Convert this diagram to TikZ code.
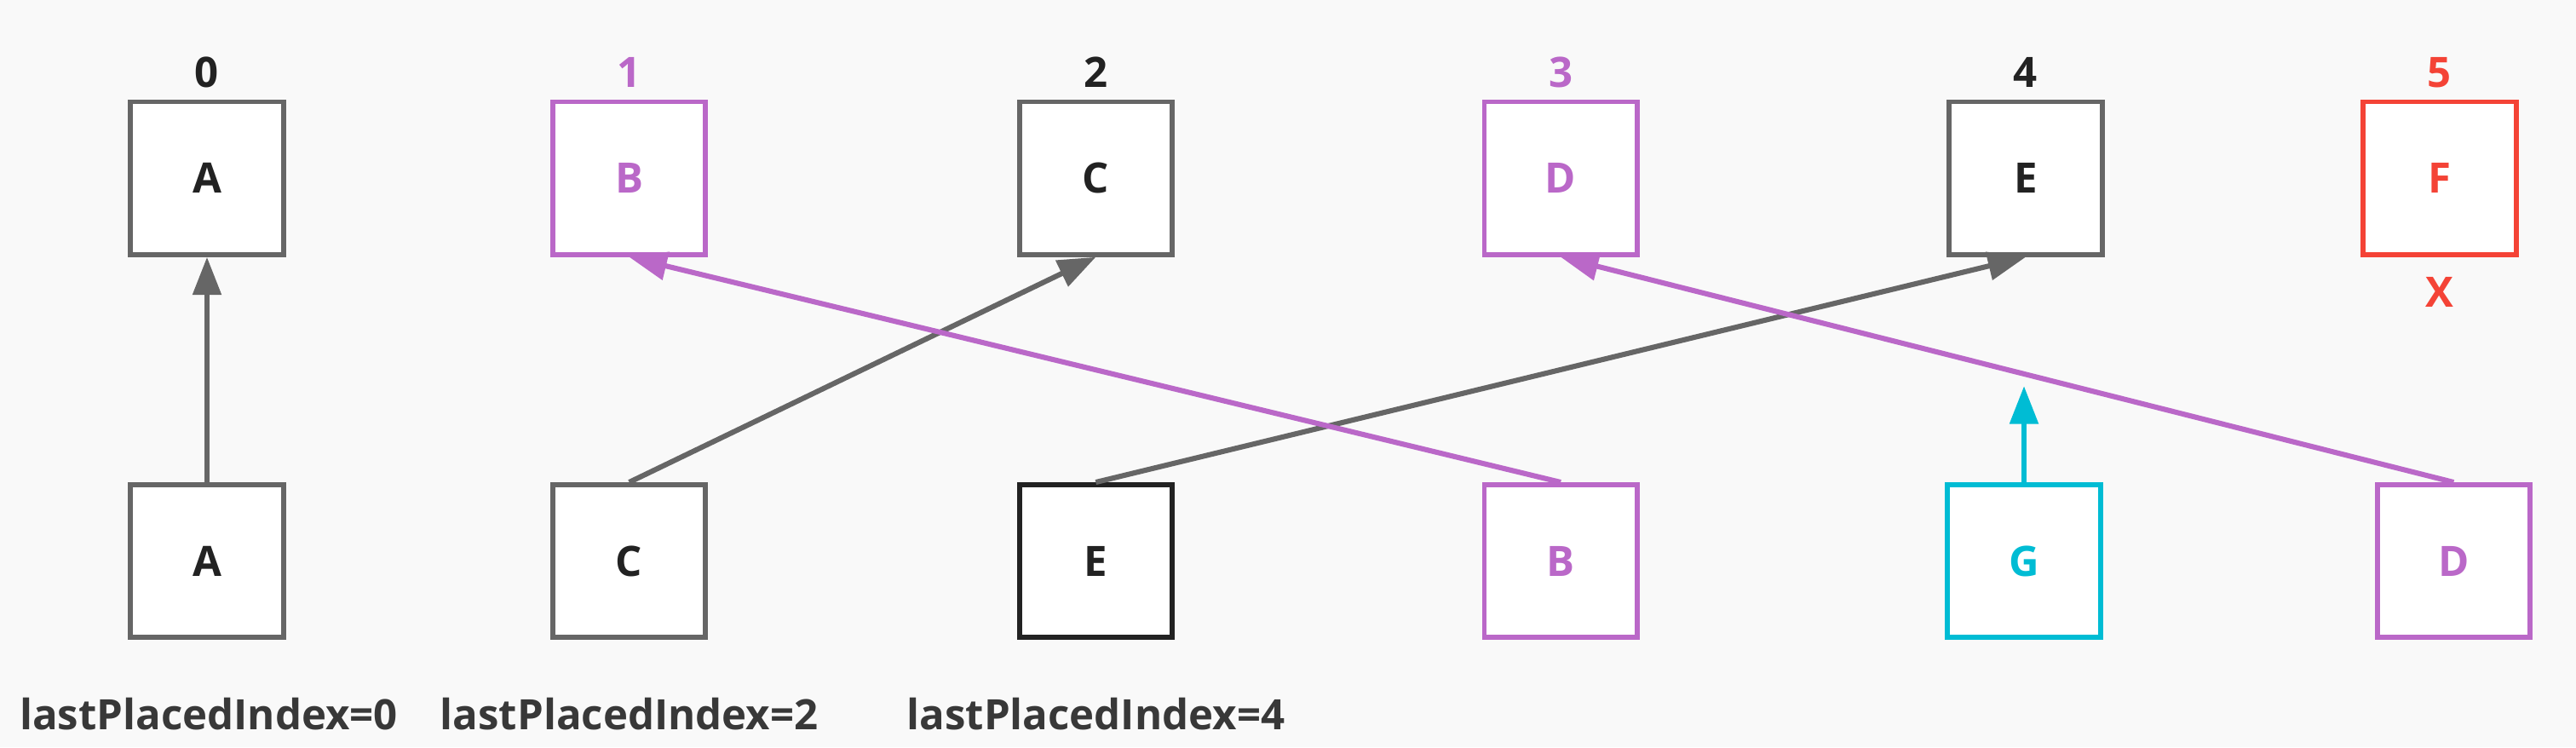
\documentclass[tikz,border=0pt]{standalone}
\usepackage{fontspec}
\setmainfont{Open Sans}
\usetikzlibrary{arrows.meta}

\definecolor{bggray}{HTML}{F9F9F9}
\definecolor{boxgray}{HTML}{666666}
\definecolor{inkdark}{HTML}{222222}
\definecolor{movepurple}{HTML}{BA68C8}
\definecolor{delred}{HTML}{F44336}
\definecolor{newcyan}{HTML}{00BCD4}

\newcommand{\diagfont}{\fontsize{14.5}{17}\selectfont\bfseries}

\begin{document}
\begin{tikzpicture}[
    x=0.02cm, y=-0.02cm,
    cell/.style={draw=boxgray, fill=white, line width=1.7pt, minimum size=1.86cm,
      inner sep=0pt, font=\diagfont, text=inkdark},
    moved/.style={draw=movepurple, text=movepurple},
    idx/.style={font=\diagfont, text=inkdark, anchor=base},
    link/.style={line width=1.8pt, -{Triangle[length=0.46cm, width=0.34cm]}},
  ]
    %% rows: y of old list (top) and new list (bottom)
    \def\ytop{108.5}
    \def\ybot{341.5}

    %% --- background ---
    \fill[bggray] (0,0) rectangle (1568,455);
    \useasboundingbox (0,0) rectangle (1568,455);

    %% ============================================================
    %% old children (top row)
    %% ============================================================
    \node[cell]                   (t0) at (126,\ytop)  {A};
    \node[cell, moved]            (t1) at (383,\ytop)  {B};
    \node[cell]                   (t2) at (667,\ytop)  {C};
    \node[cell, moved]            (t3) at (950,\ytop)  {D};
    \node[cell]                   (t4) at (1233,\ytop) {E};
    \node[cell, draw=delred, text=delred] (t5) at (1485,\ytop) {F};

    %% --- indices ---
    \node[idx]                   (i0) at (126,53)  {0};
    \node[idx, text=movepurple]  (i1) at (383,53)  {1};
    \node[idx]                   (i2) at (667,53)  {2};
    \node[idx, text=movepurple]  (i3) at (950,53)  {3};
    \node[idx]                   (i4) at (1233,53) {4};
    \node[idx, text=delred]      (i5) at (1485,53) {5};

    %% --- removed mark ---
    \node[idx, text=delred] (rmF) at (1485,187) {X};

    %% ============================================================
    %% new children (bottom row)
    %% ============================================================
    \node[cell]                   (bA) at (126,\ybot)    {A};
    \node[cell]                   (bC) at (383,\ybot)    {C};
    \node[cell, draw=inkdark]     (bE) at (667,\ybot)    {E};
    \node[cell, moved]            (bB) at (950,\ybot)    {B};
    \node[cell, draw=newcyan, text=newcyan] (bG) at (1232,\ybot) {G};
    \node[cell, moved]            (bD) at (1493.5,\ybot) {D};

    %% --- lastPlacedIndex notes ---
    \node[idx, text=inkdark!90] (lp0) at (127,444) {lastPlacedIndex=0};
    \node[idx, text=inkdark!90] (lp2) at (383,444) {lastPlacedIndex=2};
    \node[idx, text=inkdark!90] (lp4) at (667,444) {lastPlacedIndex=4};

    %% ============================================================
    %% matches new -> old
    %% ============================================================
    \draw[link, boxgray]    (bA.north) -- (t0.south);
    \draw[link, boxgray]    (bC.north) -- (t2.south);
    \draw[link, boxgray]    (bE.north) -- (t4.south);
    \draw[link, movepurple] (bB.north) -- (t1.south);
    \draw[link, movepurple] (bD.north) -- (t3.south);

    %% --- new node G: mount ---
    \coordinate (gTip) at (1232,235);
    \draw[link, newcyan] (bG.north) -- (gTip);

  \end{tikzpicture}
\end{document}
